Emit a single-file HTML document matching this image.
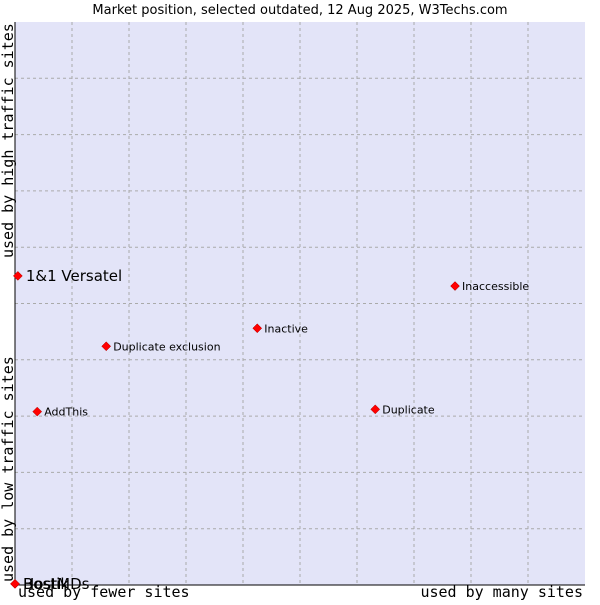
<!DOCTYPE html>
<html><head><meta charset="utf-8"><style>
body{margin:0;background:#fff;}
svg text{font-family:"DejaVu Sans","Liberation Sans",sans-serif;}
.mono{font-family:"DejaVu Sans Mono","Liberation Mono",monospace;}
</style></head><body>
<svg id="chart" width="600" height="600">
<text x="300" y="14" text-anchor="middle" font-size="13" fill="#000">Market position, selected outdated, 12 Aug 2025, W3Techs.com</text>
<rect x="15" y="22" width="570" height="563" fill="#e3e4f8"/>
<g id="grid"></g>
<line x1="15" y1="22" x2="15" y2="585" stroke="#000"/>
<line x1="15" y1="585" x2="585" y2="585" stroke="#000"/>
<text class="mono" x="18" y="597" font-size="15">used by fewer sites</text>
<text class="mono" x="583" y="597" font-size="15" text-anchor="end">used by many sites</text>
<text class="mono" transform="translate(13,582) rotate(-90)" font-size="15">used by low traffic sites</text>
<text class="mono" transform="translate(13,258) rotate(-90)" font-size="15">used by high traffic sites</text>
<g id="points"></g>
</svg>
<script>
const names=["1&1 Versatel","Inaccessible","Inactive","Duplicate exclusion","AddThis","Duplicate","HostMDs","Bostik"];
const xVals=[0.5,77.2,42.5,16.0,3.9,63.2,0,0];
const yVals=[54.9,53.1,45.6,42.4,30.8,31.2,0.2,0.2];
const bigLabel=[true,false,false,false,false,false,true,true];
const L=15,R=585,T=22,B=585;
const sx=v=>L+v/100*(R-L), sy=v=>B-v/100*(B-T);
const ns="http://www.w3.org/2000/svg";
const grid=document.getElementById('grid');
for(let i=1;i<10;i++){
 const gx=L+i*(R-L)/10, gy=T+i*(B-T)/10;
 let a=document.createElementNS(ns,'line');
 a.setAttribute('x1',gx);a.setAttribute('x2',gx);a.setAttribute('y1',T);a.setAttribute('y2',B);
 a.setAttribute('stroke','#aaa');a.setAttribute('stroke-dasharray','3,3');
 
 
 grid.appendChild(a);
 let b=document.createElementNS(ns,'line');
 b.setAttribute('x1',L);b.setAttribute('x2',R);b.setAttribute('y1',gy);b.setAttribute('y2',gy);
 b.setAttribute('stroke','#aaa');b.setAttribute('stroke-dasharray','3,3');
 
 
 grid.appendChild(b);
}
const pg=document.getElementById('points');
names.forEach((n,i)=>{
 const x=sx(xVals[i]),y=sy(yVals[i]);
 const g=document.createElementNS(ns,'g');
 
 
 const d=document.createElementNS(ns,'polygon');
 d.setAttribute('points',`${x},${y-4.5} ${x+4.5},${y} ${x},${y+4.5} ${x-4.5},${y}`);
 d.setAttribute('fill','#f00');d.setAttribute('stroke','#a00');d.setAttribute('stroke-width','0.5');
 g.appendChild(d);
 const t=document.createElementNS(ns,'text');
 t.setAttribute('x',x+(bigLabel[i]?8:7));t.setAttribute('y',y+(bigLabel[i]?5:4));
 t.setAttribute('font-size',bigLabel[i]?15:11);
 t.textContent=n;
 g.appendChild(t);
 pg.appendChild(g);
});
</script>
</body></html>
